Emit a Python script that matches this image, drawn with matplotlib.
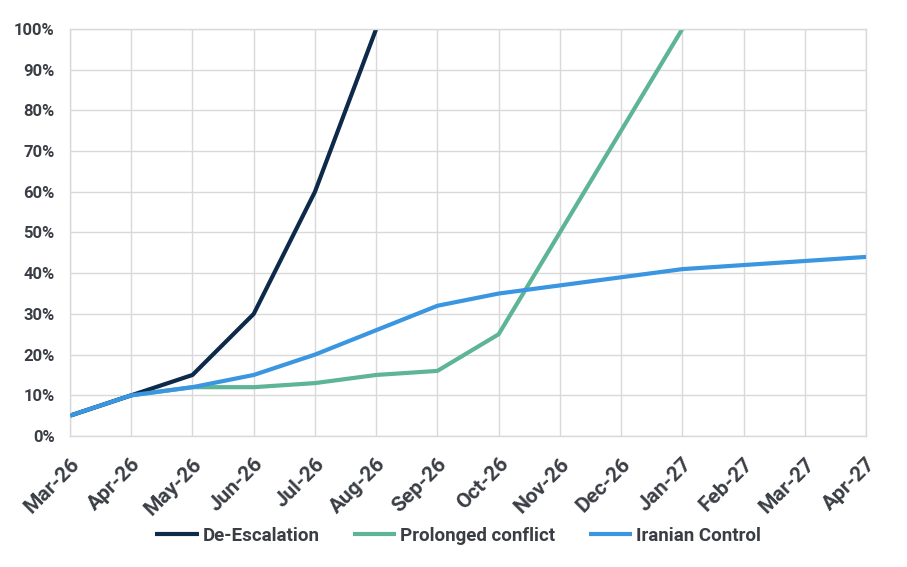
import matplotlib
matplotlib.use("Agg")
import matplotlib.pyplot as plt
from matplotlib.ticker import FuncFormatter

plt.rcParams['font.family'] = ['Roboto', 'DejaVu Sans']

months = ['Mar-26', 'Apr-26', 'May-26', 'Jun-26', 'Jul-26', 'Aug-26', 'Sep-26',
          'Oct-26', 'Nov-26', 'Dec-26', 'Jan-27', 'Feb-27', 'Mar-27', 'Apr-27']

# values in percent
de_escalation = [5, 10, 15, 30, 60, 100]
prolonged = [5, 10, 12, 12, 13, 15, 16, 25, 50, 75, 100]
iranian = [5, 10, 12, 15, 20, 26, 32, 35, 37, 39, 41, 42, 43, 44]

text_col = '#3a3e44'
grid_col = '#d9d9d9'

fig = plt.figure(figsize=(9.07, 5.67), dpi=100)
ax = fig.add_axes([0.0772, 0.231, 0.8776, 0.7179])

ax.plot(range(len(iranian)), iranian, color='#3a96e0', lw=3.0, label='Iranian Control',
        solid_capstyle='butt', zorder=3)
ax.plot(range(len(prolonged)), prolonged, color='#5db595', lw=3.0, label='Prolonged conflict',
        solid_capstyle='butt', zorder=2)
ax.plot(range(len(de_escalation)), de_escalation, color='#0d2a4b', lw=3.0, label='De-Escalation',
        solid_capstyle='butt', zorder=2)

ax.set_xlim(0, len(months) - 1)
ax.set_ylim(0, 100)
ax.set_xticks(range(len(months)))
ax.set_xticklabels(months, rotation=45, ha='right', rotation_mode='anchor')
ax.set_yticks(range(0, 101, 10))
ax.yaxis.set_major_formatter(FuncFormatter(lambda v, p: f'{int(v)}%'))

ax.grid(True, color=grid_col, lw=1.0)
ax.set_axisbelow(True)
for s in ax.spines.values():
    s.set_color(grid_col)
    s.set_linewidth(1.0)
ax.tick_params(length=0, labelcolor=text_col)
ax.tick_params(axis='x', pad=13, labelsize=15)
ax.tick_params(axis='y', pad=11, labelsize=12)
for lab in ax.get_xticklabels() + ax.get_yticklabels():
    lab.set_fontweight('bold')

handles, labels = ax.get_legend_handles_labels()
order = [2, 1, 0]
leg = fig.legend([handles[i] for i in order], [labels[i] for i in order],
                 loc='center', bbox_to_anchor=(0.505, 0.0547), ncol=3, frameon=False,
                 handlelength=2.3, handletextpad=0.2, columnspacing=1.8,
                 prop={'weight': 'bold', 'size': 13.5})
for t in leg.get_texts():
    t.set_color(text_col)

fig.savefig('out.png', dpi=100)
